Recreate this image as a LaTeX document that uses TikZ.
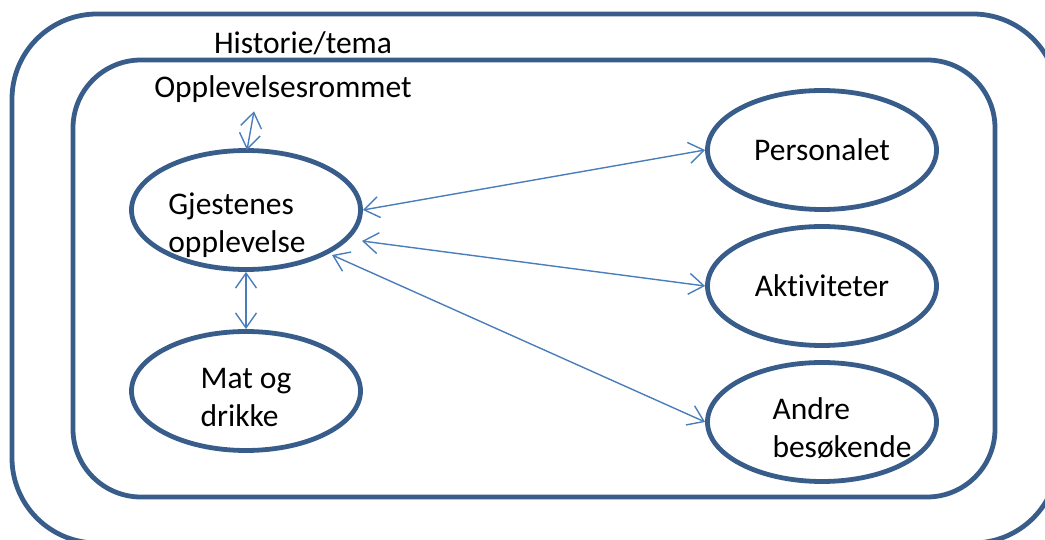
\documentclass[tikz,border=0pt]{standalone}
\usepackage{fontspec}
\setmainfont{Carlito}[Ligatures=NoCommon]
\usetikzlibrary{shapes.geometric,arrows.meta,calc}
\definecolor{boxblue}{RGB}{56,93,138}
\definecolor{arrblue}{RGB}{74,126,187}
\begin{document}
\begin{tikzpicture}[x=1pt,y=-1pt,
  frame/.style={draw=boxblue,line width=4.8pt},
  txt/.style={font=\fontsize{31.5}{38}\selectfont,align=left,inner sep=0pt},
  oval/.style={ellipse,draw=boxblue,line width=4.8pt,minimum width=229pt,minimum height=119pt,inner sep=0pt,txt},
  link/.style={draw=arrblue,line width=1.4pt,{Straight Barb[length=15pt,width=21pt]}-{Straight Barb[length=15pt,width=21pt]}},
  lbl/.style={txt,anchor=base}]
\useasboundingbox (0,0) rectangle (1045,540);
\begin{scope}
  \clip (0,0) rectangle (1045,540);
  \draw[frame,rounded corners=85pt] (12,14) rectangle (1058,543);
\end{scope}
\draw[frame,rounded corners=68pt] (73,60) rectangle (995,497);

\node[lbl] (hist) at (303,54) {Historie/tema};
\node[lbl] (opp) at (283,98) {Opplevelsesrommet};

\node[oval] (gj) at (246,210) {};
\node[txt] (gjt) at (237,225) {Gjestenes\\opplevelse};
\node[oval] (mat) at (246,391) {};
\node[txt] (matt) at (246,398) {Mat og\\drikke};
\node[oval] (pers) at (822,150) {Personalet};
\node[oval] (akt) at (822,286) {Aktiviteter};
\node[oval] (andre) at (822,422) {};
\node[txt] (andret) at (842,428) {Andre\\besøkende};

\coordinate (opptip) at ($(opp.south)+(-29,8)$);
\draw[link] (opptip) -- ($(gj.north)+(1,2)$);
\draw[link] (gj.south) -- (mat.north);
\draw[link] (gj.east) -- (pers.west);
\draw[link] ($(gj.center)+(116,31)$) -- (akt.west);
\draw[link] ($(gj.center)+(86,45)$) -- (andre.west);
\end{tikzpicture}
\end{document}
